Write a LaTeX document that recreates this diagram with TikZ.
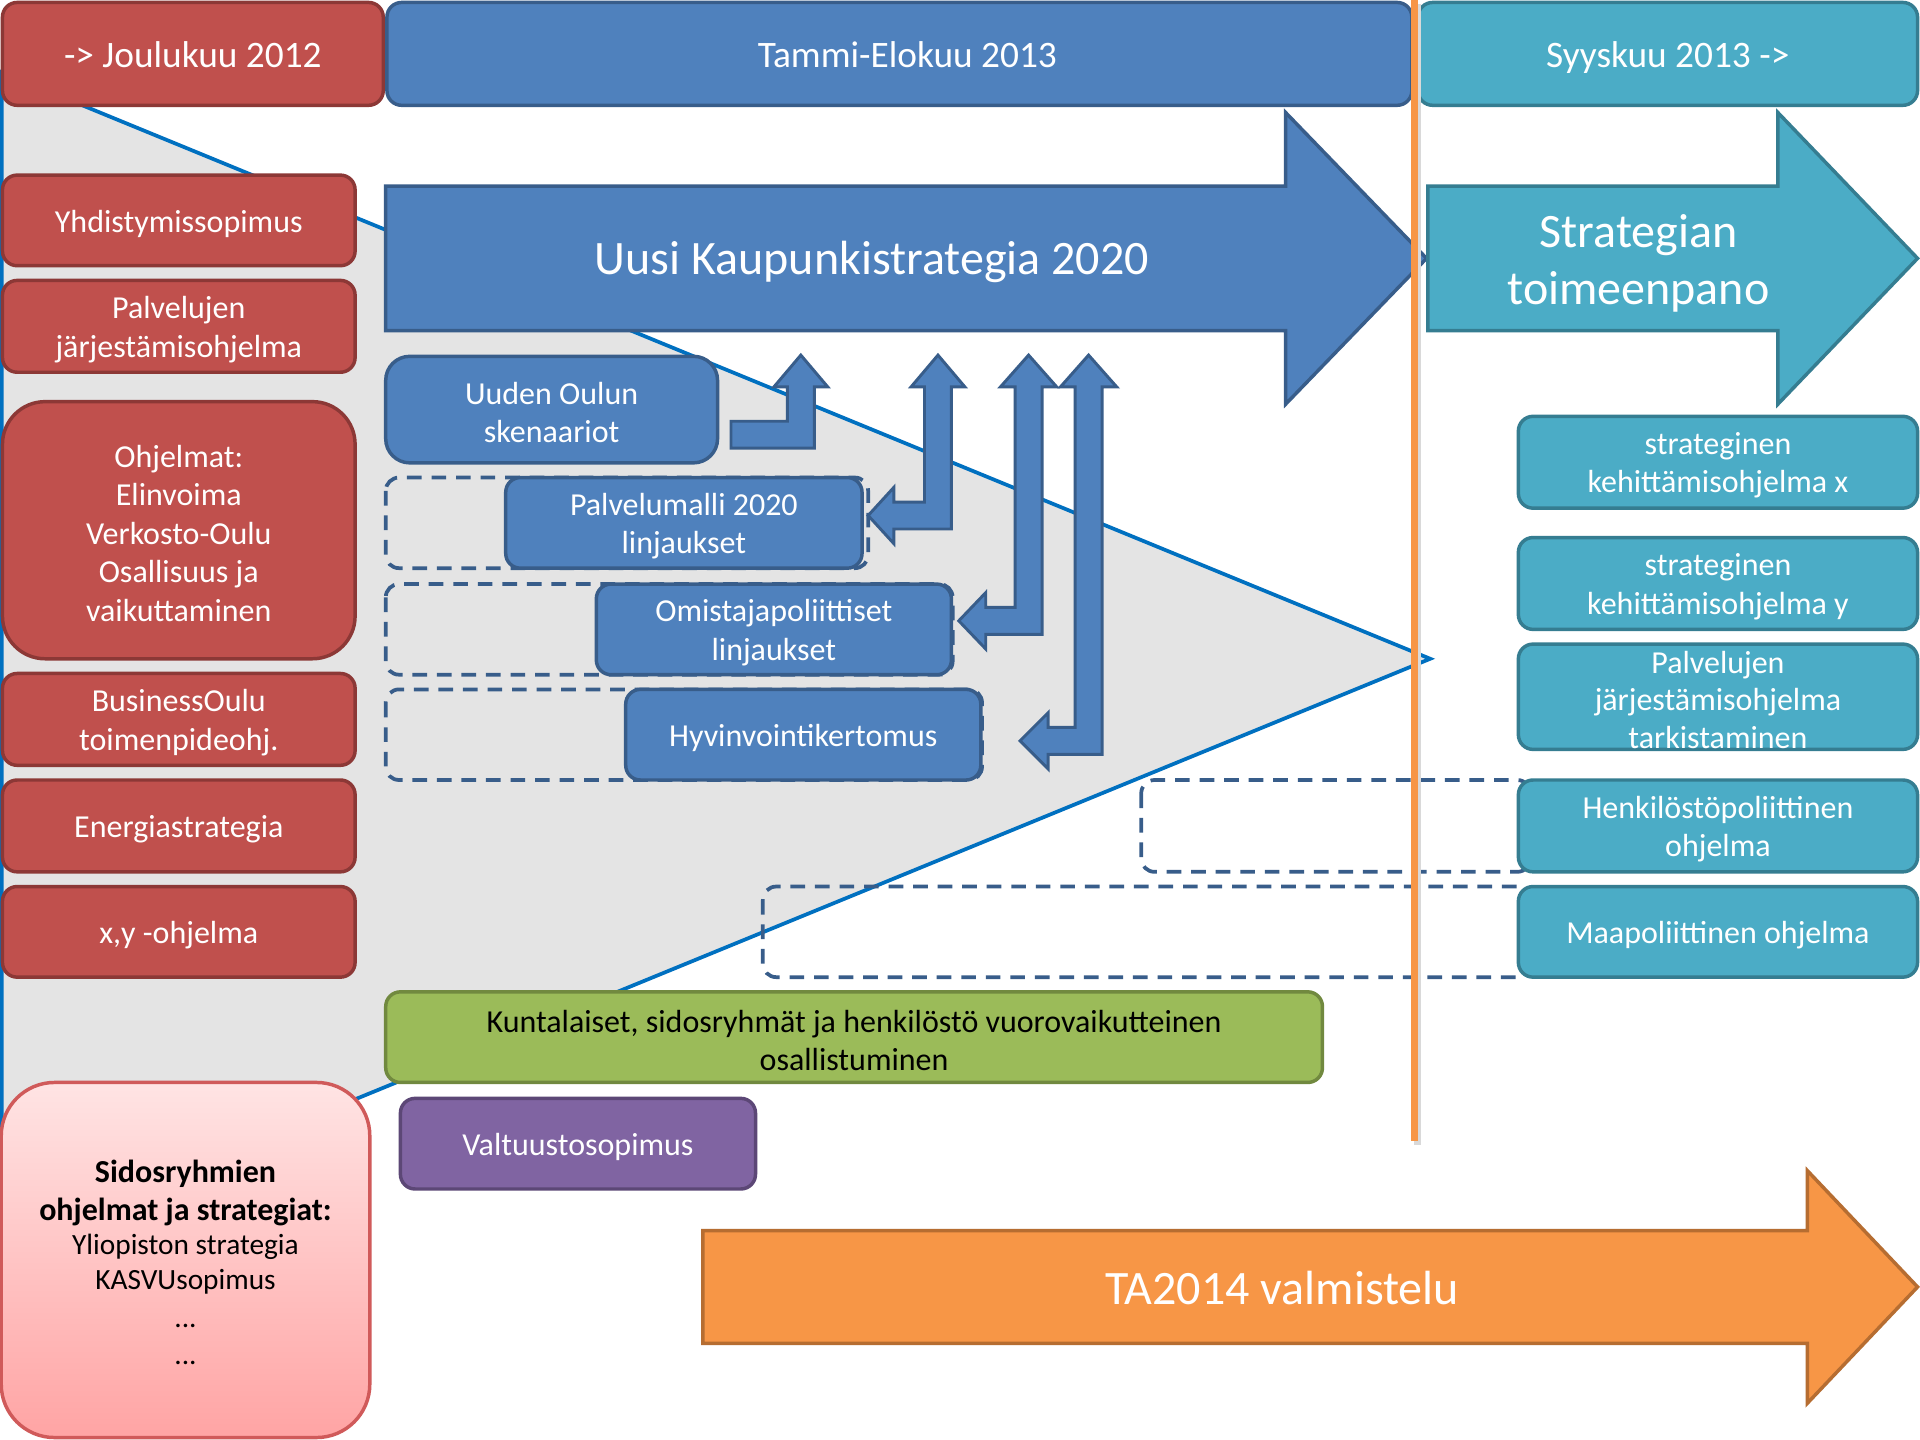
\documentclass[tikz,border=0pt]{standalone}
\usepackage{fontspec}
\setmainfont{Carlito}
\usetikzlibrary{fit}
\definecolor{redF}{HTML}{C0504D}
\definecolor{redD}{HTML}{8C3836}
\definecolor{bluF}{HTML}{4F81BD}
\definecolor{bluD}{HTML}{385D8A}
\definecolor{cyaF}{HTML}{4BACC6}
\definecolor{cyaD}{HTML}{357D91}
\definecolor{greF}{HTML}{9BBB59}
\definecolor{greD}{HTML}{71893F}
\definecolor{purF}{HTML}{8064A2}
\definecolor{purD}{HTML}{5C4776}
\definecolor{oraF}{HTML}{F79646}
\definecolor{oraD}{HTML}{B66D31}
\definecolor{triF}{HTML}{E4E4E4}
\definecolor{triL}{HTML}{0070C0}
\definecolor{pinkT}{HTML}{FFE4E4}
\definecolor{pinkB}{HTML}{FFA4A4}
\definecolor{pinkD}{HTML}{D05A5A}
\begin{document}
\begin{tikzpicture}[x=0.45918pt,y=-0.45918pt,
  box/.style={draw, line width=1.3pt, rounded corners=5.5pt, inner sep=0pt},
  redbox/.style={box, fill=redF, draw=redD},
  blubox/.style={box, fill=bluF, draw=bluD},
  cyabox/.style={box, fill=cyaF, draw=cyaD},
  lbl/.style={align=flush center, text=white, inner sep=0pt, yshift=-1.2pt,
    font=\fontsize{12}{14.4}\selectfont},
  toplbl/.style={lbl, yshift=0.9pt, font=\fontsize{14}{16.8}\selectfont},
  dashbox/.style={draw=bluD, line width=1.4pt, rounded corners=5pt,
    dash pattern=on 5.5pt off 3.7pt},
  bigarrow/.style={line width=1.3pt, line join=miter},
  blockarrow/.style={fill=bluF, draw=bluD, line width=1.1pt, line join=miter},
  bigtext/.style={text=white, align=flush center, inner sep=0pt,
    font=\fontsize{18}{21.6}\selectfont}
]
\useasboundingbox (0,0) rectangle (1568,1176);
\fill[white] (0,0) rectangle (1568,1176);

% background triangle
\fill[triF] (1.5,59) -- (1168,538) -- (1.5,1016) -- cycle;
\draw[triL, line width=1.4pt] (1.5,59) -- (1168,538) -- (1.5,1016) -- cycle;

% dashed frames
\draw[dashbox] (315,390) rectangle (709,464);
\draw[dashbox] (315,477) rectangle (778,551);
\draw[dashbox] (315,563) rectangle (802,637);
\draw[dashbox] (932,637) rectangle (1250,712);
\draw[dashbox] (623,724) rectangle (1250,798);

% top bars
\node[redbox, fit={(2,2)(313,86)}] (t1) {};
\node[toplbl] at (t1.center) {-> Joulukuu 2012};
\node[blubox, fit={(316,2)(1153,86)}] (t2) {};
\node[toplbl] at ([xshift=3pt]t2.center) {Tammi-Elokuu 2013};
\node[cyabox, fit={(1158,2)(1566,86)}] (t3) {};
\node[toplbl] at ([yshift=-0.9pt]t3.center) {Syyskuu 2013 ->};

% big arrows
\draw[bigarrow, fill=bluF, draw=bluD] (315,152) -- (1050,152) -- (1050,92) -- (1165,211)
  -- (1050,330) -- (1050,270) -- (315,270) -- cycle;
\node[bigtext] (uusi) at (712,214) {Uusi Kaupunkistrategia 2020};
\draw[bigarrow, fill=cyaF, draw=cyaD] (1166,152) -- (1452,152) -- (1452,92) -- (1566,211)
  -- (1452,330) -- (1452,270) -- (1166,270) -- cycle;
\node[bigtext] (strat) at (1338,215) {Strategian\\toimeenpano};
\draw[bigarrow, fill=oraF, draw=oraD] (574,1005) -- (1476,1005) -- (1476,956) -- (1566,1051)
  -- (1476,1146) -- (1476,1097) -- (574,1097) -- cycle;
\node[bigtext] (ta) at (1047,1052) {TA2014 valmistelu};

% left red boxes
\node[redbox, fit={(2,143)(290,217)}] (r1) {};
\node[lbl] at (r1.center) {Yhdistymissopimus};
\node[redbox, fit={(2,229)(290,304)}] (r2) {};
\node[lbl] at (r2.center) {Palvelujen\\järjestämisohjelma};
\node[redbox, rounded corners=16pt, fit={(2,328)(290,538)}] (r3) {};
\node[lbl] at (r3.center) {Ohjelmat:\\Elinvoima\\Verkosto-Oulu\\Osallisuus ja\\vaikuttaminen};
\node[redbox, fit={(2,550)(290,625)}] (r4) {};
\node[lbl] at (r4.center) {BusinessOulu\\toimenpideohj.};
\node[redbox, fit={(2,637)(290,712)}] (r5) {};
\node[lbl] at (r5.center) {Energiastrategia};
\node[redbox, fit={(2,724)(290,798)}] (r6) {};
\node[lbl] at (r6.center) {x,y -ohjelma};

% stakeholder box
\node[draw=pinkD, line width=1.3pt, top color=pinkT, bottom color=pinkB,
  rounded corners=20pt, inner sep=0pt, fit={(1,884)(302,1174)}] (s) {};
\node[align=flush center, text width=130pt, inner sep=0pt, text=black,
  font=\fontsize{12}{14.2}\selectfont] (stxt) at ([yshift=-1pt]s.center)
  {\textbf{Sidosryhmien}\\\textbf{ohjelmat ja strategiat:}\\[-0.6pt]
   {\fontsize{11}{13.2}\selectfont Yliopiston strategia\\KASVUsopimus\\[1pt]...\\...}};

% middle blue boxes
\node[blubox, rounded corners=9pt, fit={(315,291)(586,378)}] (b1) {};
\node[lbl] at (b1.center) {Uuden Oulun\\skenaariot};
\node[blubox, fit={(413,390)(704,464)}] (b2) {};
\node[lbl] at (b2.center) {Palvelumalli 2020\\linjaukset};
\node[blubox, fit={(487,477)(777,551)}] (b3) {};
\node[lbl] at (b3.center) {Omistajapoliittiset\\linjaukset};
\node[blubox, fit={(511,563)(801,637)}] (b4) {};
\node[lbl] at (b4.center) {Hyvinvointikertomus};

% block arrows
\draw[blockarrow] (597,344) -- (643,344) -- (643,316) -- (632,316) -- (654,290)
  -- (676,316) -- (665,316) -- (665,366) -- (597,366) -- cycle;
\draw[blockarrow] (755,316) -- (744,316) -- (766,290) -- (788,316) -- (777,316)
  -- (777,432) -- (730,432) -- (730,444) -- (709,421) -- (730,398) -- (730,410)
  -- (755,410) -- cycle;
\draw[blockarrow] (829,316) -- (817,316) -- (840,290) -- (863,316) -- (851,316)
  -- (851,518) -- (805,518) -- (805,530) -- (783,507) -- (805,484) -- (805,496)
  -- (829,496) -- cycle;
\draw[blockarrow] (878,316) -- (866,316) -- (889,290) -- (912,316) -- (900,316)
  -- (900,616) -- (856,616) -- (856,628) -- (833,605) -- (856,582) -- (856,594)
  -- (878,594) -- cycle;

% right cyan boxes
\node[cyabox, fit={(1240,340)(1566,415)}] (c1) {};
\node[lbl] at (c1.center) {strateginen\\kehittämisohjelma x};
\node[cyabox, fit={(1240,439)(1566,514)}] (c2) {};
\node[lbl] at (c2.center) {strateginen\\kehittämisohjelma y};
\node[cyabox, fit={(1240,526)(1566,612)}] (c3) {};
\node[lbl, font=\fontsize{12}{14.2}\selectfont] at (c3.center)
  {Palvelujen\\järjestämisohjelma\\tarkistaminen};
\node[cyabox, fit={(1240,637)(1566,712)}] (c4) {};
\node[lbl] at (c4.center) {Henkilöstöpoliittinen\\ohjelma};
\node[cyabox, fit={(1240,724)(1566,798)}] (c5) {};
\node[lbl] at (c5.center) {Maapoliittinen ohjelma};

% green and purple
\node[box, fill=greF, draw=greD, fit={(315,810)(1080,884)}] (g) {};
\node[lbl, text=black] at (g.center)
  {Kuntalaiset, sidosryhmät ja henkilöstö vuorovaikutteinen\\osallistuminen};
\node[box, fill=purF, draw=purD, fit={(327,897)(617,971)}] (p) {};
\node[lbl] at (p.center) {Valtuustosopimus};

% orange time line
\coordinate (otop) at (1155,0);
\coordinate (obot) at (1155,932);
\draw[black!15, line width=2.4pt] ([xshift=1.2pt,yshift=-1.5pt]otop) -- ([xshift=1.2pt,yshift=-1.5pt]obot);
\draw[oraF, line width=2.4pt] (otop) -- (obot);
\end{tikzpicture}
\end{document}
